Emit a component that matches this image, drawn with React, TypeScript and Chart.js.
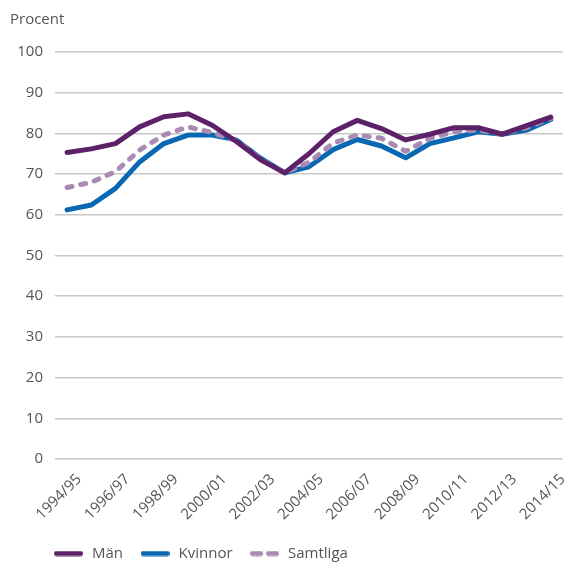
import React, { useEffect, useRef } from "react";
import { Chart, registerables } from "chart.js";

Chart.register(...registerables);

const categories = [
  "1994/95", "1995/96", "1996/97", "1997/98", "1998/99", "1999/00", "2000/01",
  "2001/02", "2002/03", "2003/04", "2004/05", "2005/06", "2006/07", "2007/08",
  "2008/09", "2009/10", "2010/11", "2011/12", "2012/13", "2013/14", "2014/15",
];

const man = [75.3, 76.2, 77.5, 81.6, 84.1, 84.8, 82.0, 78.0, 73.5, 70.3, 75.0, 80.4, 83.2, 81.2, 78.4, 79.8, 81.4, 81.4, 79.8, 81.9, 84.0];
const kvinnor = [61.2, 62.4, 66.5, 73.0, 77.5, 79.6, 79.6, 78.4, 73.9, 70.3, 71.8, 76.0, 78.5, 76.9, 74.0, 77.5, 78.9, 80.4, 79.8, 80.8, 83.4];
const samtliga = [66.7, 68.0, 70.6, 75.9, 79.6, 81.6, 80.2, 78.3, 73.7, 70.3, 72.9, 77.6, 79.6, 78.8, 75.6, 78.8, 80.4, 80.8, 79.8, 81.4, 83.7];

const yTitle = "Procent";
const FONT = "'Open Sans', sans-serif";
const TEXT = "#555555";

function legendSample(color: string, dash: number[]) {
  const c = document.createElement("canvas");
  c.width = 29;
  c.height = 6;
  const g = c.getContext("2d")!;
  g.strokeStyle = color;
  g.lineWidth = 5;
  g.lineCap = "round";
  g.setLineDash(dash);
  g.beginPath();
  g.moveTo(2.5, 3);
  g.lineTo(26.5, 3);
  g.stroke();
  return c;
}

export default function App() {
  const ref = useRef<HTMLCanvasElement>(null);
  useEffect(() => {
    if (!ref.current) return;
    const extras = {
      id: "extras",
      afterLayout(chart: any) {
        if (chart.legend) {
          chart.legend.left += 36.5;
        }
      },
      afterDraw(chart: any) {
        const ctx = chart.ctx;
        ctx.save();
        ctx.font = `15px ${FONT}`;
        ctx.fillStyle = TEXT;
        ctx.textAlign = "left";
        ctx.textBaseline = "middle";
        ctx.fillText(yTitle, 10, 20);
        ctx.restore();
      },
    };
    const chart = new Chart(ref.current, {
      type: "line",
      data: {
        labels: categories,
        datasets: [
          {
            label: "Män",
            data: man,
            borderColor: "#5c2168",
            backgroundColor: "#5c2168",
            borderWidth: 5,
            pointRadius: 0,
            borderCapStyle: "round",
            borderJoinStyle: "round",
            order: 0,
          },
          {
            label: "Kvinnor",
            data: kvinnor,
            borderColor: "#0a68b2",
            backgroundColor: "#0a68b2",
            borderWidth: 5,
            pointRadius: 0,
            borderCapStyle: "round",
            borderJoinStyle: "round",
            order: 2,
          },
          {
            label: "Samtliga",
            data: samtliga,
            borderColor: "#a98ab2",
            backgroundColor: "#a98ab2",
            borderWidth: 5,
            pointRadius: 0,
            borderDash: [5, 9],
            borderCapStyle: "round",
            borderJoinStyle: "round",
            order: 1,
          },
        ],
      },
      options: {
        responsive: false,
        animation: false,
        layout: { padding: { top: 52, left: 0, right: 0, bottom: -8 } },
        plugins: {
          title: { display: false },
          tooltip: { enabled: false },
          legend: {
            position: "bottom",
            align: "start",
            labels: {
              usePointStyle: true,
              pointStyleWidth: 32,
              boxHeight: 10,
              color: TEXT,
              font: { family: FONT, size: 15 },
              padding: 16,
              sort: (a: any, b: any) => a.datasetIndex - b.datasetIndex,
              generateLabels: (ch: any) =>
                Chart.defaults.plugins.legend.labels.generateLabels(ch).map((it: any) => {
                  const ds = ch.data.datasets[it.datasetIndex];
                  return {
                    ...it,
                    pointStyle: legendSample(
                      ds.borderColor as string,
                      ds.borderDash ? [8, 8] : []
                    ),
                  };
                }),
            },
          },
        },
        scales: {
          x: {
            offset: true,
            grid: { display: false },
            border: { display: false },
            afterFit: (s: any) => {
              s.height += 3;
            },
            ticks: {
              autoSkip: false,
              maxRotation: 45,
              minRotation: 45,
              color: TEXT,
              font: { family: FONT, size: 15 },
              padding: 3.5,
              labelOffset: 12,
              callback: (_v: any, i: number) => (i % 2 === 0 ? categories[i] : ""),
            },
          },
          y: {
            min: 0,
            max: 100,
            afterFit: (s: any) => {
              s.width = 55;
            },
            grid: { color: "#c8c8c8", lineWidth: 1.5, drawTicks: false },
            border: { display: false },
            ticks: {
              stepSize: 10,
              color: TEXT,
              font: { family: FONT, size: 15 },
              padding: 12,
            },
          },
        },
      },
      plugins: [extras],
    });
    return () => chart.destroy();
  }, []);
  return (
    <div style={{ position: "fixed", left: 0, top: 0, width: 567, height: 563 }}>
      <canvas ref={ref} width={567} height={563} />
    </div>
  );
}
